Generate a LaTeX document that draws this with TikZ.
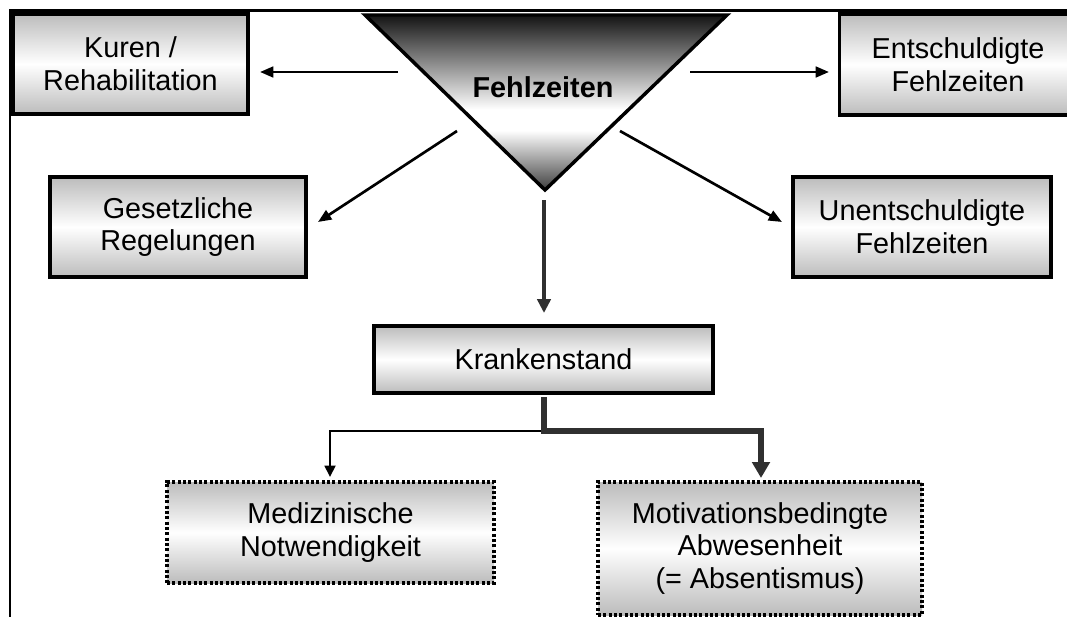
\documentclass[tikz,border=0pt]{standalone}
\usepackage{fontspec}
\setmainfont{Liberation Sans}
\usetikzlibrary{arrows.meta,calc}
\definecolor{boxgray}{RGB}{188,188,188}
\definecolor{tritop}{RGB}{20,20,20}
\definecolor{tribot}{RGB}{62,62,62}
\definecolor{arrgray}{RGB}{48,48,48}
\pgfdeclareverticalshading{trishade}{100bp}{color(0bp)=(tribot); color(25bp)=(tribot); color(42bp)=(white); color(48bp)=(white); color(75bp)=(tritop); color(100bp)=(tritop)}
\begin{document}
\begin{tikzpicture}[x=0.75pt,y=-0.75pt,
  txt/.style={font=\fontsize{21.6}{24.5}\selectfont, align=center},
  solidbox/.style={txt, rectangle, draw=black, line width=2.3pt, inner sep=0pt,
    top color=boxgray, bottom color=boxgray, middle color=white},
  dotbox/.style={solidbox, line width=2.4pt, dash pattern=on 2.3pt off 1.7pt},
  arr/.style={line width=2pt, -{Triangle[length=10pt,width=8pt]}},
  thickarr/.style={line width=2.8pt, draw=arrgray, -{Triangle[length=10.5pt,width=10pt]}},
  heavyarr/.style={line width=3.8pt, draw=arrgray, -{Triangle[length=12pt,width=13pt]}},
  thinbranch/.style={line width=2pt, -{Triangle[length=8.5pt,width=8pt]}}
]
\useasboundingbox (0,0) rectangle (1067,617);
\clip (0,0) rectangle (1067,617);
\fill[white] (0,0) rectangle (1067,617);

% frame
\draw[line width=1.6pt] (1067,10.5) -- (10,10.5) -- (10,617);

% triangle
\coordinate (tl) at (365,15);
\coordinate (tr) at (727,15);
\coordinate (tap) at (545,190);
\path[draw=black, line width=2.6pt, line join=miter, shade, shading=trishade] (tl) -- (tr) -- (tap) -- cycle;
\node[font=\bfseries\fontsize{21.6}{24}\selectfont] (fz) at (543,87) {Fehlzeiten};

% boxes
\node[solidbox, minimum width=176.25pt, minimum height=75pt] (kur) at (130.5,64) {Kuren /\\Rehabilitation};
\node[solidbox, minimum width=192pt, minimum height=75pt] (ges) at (178,227) {Gesetzliche\\Regelungen};
\node[solidbox, minimum width=178pt, minimum height=75.75pt] (ent) at (958,64.5) {Entschuldigte\\Fehlzeiten};
\node[solidbox, minimum width=193.5pt, minimum height=75pt] (une) at (922,227) {Unentschuldigte\\Fehlzeiten};
\node[solidbox, minimum width=254.25pt, minimum height=50.25pt] (kra) at (543.5,359.5) {Krankenstand};
\node[dotbox, minimum width=245.25pt, minimum height=75.75pt] (med) at (330.5,532.5) {Medizinische\\Notwendigkeit};
\node[dotbox, minimum width=243pt, minimum height=99.75pt] (mot) at (760,548.5) {Motivationsbedingte\\Abwesenheit\\(= Absentismus)};

% connector coordinates
\coordinate (aK0) at (398,72);  \coordinate (aK1) at (260,72);
\coordinate (aE0) at (690,72);  \coordinate (aE1) at (829,72);
\coordinate (aG0) at (457,131); \coordinate (aG1) at (318,222);
\coordinate (aU0) at (620,131); \coordinate (aU1) at (782,222);
\coordinate (aD0) at (544,200); \coordinate (aD1) at (544,313);
\coordinate (bS) at (544,397);  \coordinate (bJ) at (544,431);
\coordinate (bR) at (761,431);  \coordinate (bRe) at (761,478);
\coordinate (bLe) at (330,477);

% connectors
\draw[arr] (aK0) -- (aK1);
\draw[arr] (aE0) -- (aE1);
\draw[arr] (aG0) -- (aG1);
\draw[arr] (aU0) -- (aU1);
\draw[thickarr] (aD0) -- (aD1);
\draw[thinbranch] (bJ) -| (bLe);
\draw[heavyarr] (bS) |- (bR) -- (bRe);
\end{tikzpicture}
\end{document}
